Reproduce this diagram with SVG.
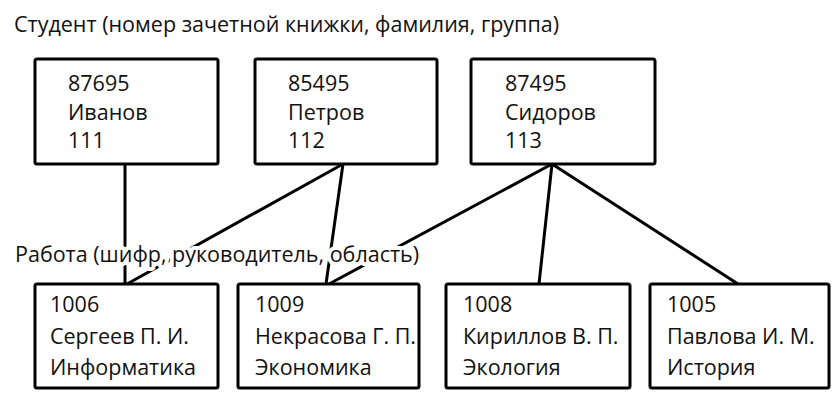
<svg xmlns="http://www.w3.org/2000/svg" width="832" height="404" viewBox="0 0 832 404">
<style>
text{font-family:"Open Sans","Noto Sans","DejaVu Sans",sans-serif;font-size:21.5px;fill:#111}
.box{fill:#fff;stroke:#000;stroke-width:3;}
.ln{stroke:#000;stroke-width:3;fill:none;stroke-linecap:round}
.halo{stroke:#fff;stroke-width:8;stroke-linejoin:round;paint-order:stroke}
</style>
<rect width="832" height="404" fill="#fff"/>
<text x="14" y="32">Студент (номер зачетной книжки, фамилия, группа)</text>
<g id="connectors">
<line class="ln" x1="125" y1="164" x2="125" y2="284"/>
<line class="ln" x1="343" y1="164" x2="127" y2="284"/>
<line class="ln" x1="343" y1="164" x2="326" y2="284"/>
<line class="ln" x1="552" y1="164" x2="329" y2="284"/>
<line class="ln" x1="552" y1="164" x2="539" y2="284"/>
<line class="ln" x1="552" y1="164" x2="738" y2="284"/>
</g>
<text class="halo" x="15" y="262">Работа (шифр, руководитель, область)</text>
<g id="s1"><rect class="box" x="35" y="59" width="183" height="105" rx="2"/>
<text x="68" y="91">87695</text><text x="68" y="120">Иванов</text><text x="68" y="148">111</text></g>
<g id="s2"><rect class="box" x="255" y="59" width="182" height="105" rx="2"/>
<text x="288" y="91">85495</text><text x="288" y="120">Петров</text><text x="288" y="148">112</text></g>
<g id="s3"><rect class="box" x="471" y="59" width="184" height="105" rx="2"/>
<text x="505" y="91">87495</text><text x="505" y="120">Сидоров</text><text x="505" y="148">113</text></g>
<g id="w1"><rect class="box" x="35" y="284" width="183" height="104" rx="2"/>
<text x="50" y="312">1006</text><text x="50" y="344">Сергеев П. И.</text><text x="50" y="375">Информатика</text></g>
<g id="w2"><rect class="box" x="238" y="284" width="181" height="104" rx="2"/>
<text x="255" y="312">1009</text><text x="255" y="344">Некрасова Г. П.</text><text x="255" y="375">Экономика</text></g>
<g id="w3"><rect class="box" x="446" y="284" width="184" height="104" rx="2"/>
<text x="463" y="312">1008</text><text x="463" y="344">Кириллов В. П.</text><text x="463" y="375">Экология</text></g>
<g id="w4"><rect class="box" x="650" y="284" width="179" height="104" rx="2"/>
<text x="667" y="312">1005</text><text x="667" y="344">Павлова И. М.</text><text x="667" y="375">История</text></g>
</svg>
